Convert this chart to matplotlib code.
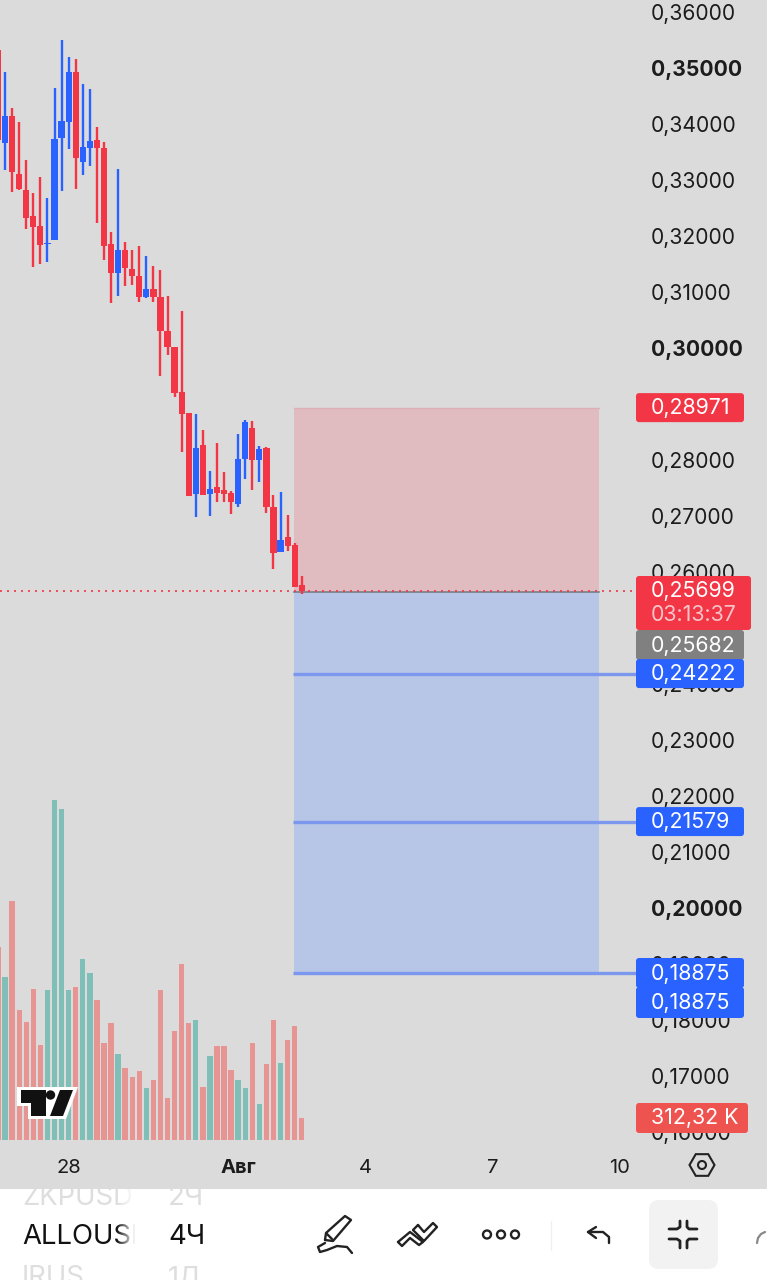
import matplotlib
matplotlib.use('Agg')
import matplotlib.pyplot as plt
import numpy as np
from matplotlib.patches import Rectangle, FancyBboxPatch, Polygon, Circle, RegularPolygon
from matplotlib.transforms import ScaledTranslation

plt.rcParams['font.family'] = ['Inter', 'DejaVu Sans']

# 4h candles
opens = [.35357, .33696, .34179, .33143, .32857, .32393, .32214, .31893, .31964, .33786, .34071,
         .34964, .33357, .33607, .33750, .33607, .31893, .31375, .31786, .31446, .31321, .30946,
         .31089, .30946, .30339, .30054, .29250, .28875, .27428, .28304, .27428, .27554, .27500,
         .27446, .27250, .28054, .28607, .28036, .28250, .27196, .26393, .26661, .26518, .25804]
highs = [.35357, .34964, .34321, .34071, .33393, .32804, .33089, .32714, .34679, .35536, .35232,
         .35196, .34750, .34661, .33982, .33714, .32107, .33232, .31929, .31786, .31857, .31679,
         .31500, .31429, .30964, .30054, .30696, .28875, .28857, .28571, .27839, .28339, .27821,
         .27482, .28500, .28750, .28732, .28286, .28268, .27411, .27464, .27054, .26554, .25964]
lows = [.33661, .33214, .32821, .32857, .32161, .31482, .31536, .31571, .31964, .32839, .33589,
        .32875, .33125, .33286, .32268, .31607, .30839, .30964, .31143, .31161, .30857, .30929,
        .30857, .29536, .29911, .29161, .28179, .27393, .27018, .27411, .27036, .27286, .27286,
        .27072, .27196, .27696, .27500, .27643, .27089, .26089, .26393, .26411, .25768, .25643]
closes = [.33750, .34179, .33179, .32875, .32357, .32196, .31875, .31911, .33768, .34089, .34964,
          .33429, .33625, .33732, .33607, .31857, .31375, .31786, .31464, .31321, .30946, .31089,
          .30946, .30339, .30054, .29232, .28857, .27393, .28250, .27411, .27518, .27446, .27428,
          .27286, .28054, .28714, .28036, .28232, .27196, .26375, .26607, .26500, .25768, .25699]
volumes = [2741, 2315, 3394, 1846, 1676, 2144, 1349, 2130, 4828, 4700, 2130, 2173, 2570, 2371, 1988,
           1377, 1661, 1221, 1022, 895, 980, 738, 852, 2130, 596, 1548, 2499, 1661, 1704, 753, 1193,
           1335, 1335, 994, 852, 738, 1377, 511, 1079, 1704, 1093, 1420, 1619, 312.32]

price_ticks = [.36, .35, .34, .33, .32, .31, .30, .28, .27, .26, .24, .23, .22, .21, .20, .19, .18, .17, .16]
bold_ticks = [.35, .30, .20]
date_ticks = [10, 34, 52, 70, 88]
date_labels = ['28', 'Авг', '4', '7', '10']

stop_price = 0.28971
entry_price = 0.25682
last_price = 0.25699
targets = [0.24222, 0.21579, 0.18875]

RED = '#f23645'
BLUE = '#2962ff'
GRAY_BG = '#dbdbdb'
VOL_RED = '#e79592'
VOL_TEAL = '#7fbfb8'

# pixel layout of the screenshot
CHART_H = 1189
PX_PER_BAR = 7.064
PX_PER_PRICE = 5600


def bar_x(px):
    return (px + 2) / PX_PER_BAR


def price_y(price):
    return 70 + (0.35 - price) * PX_PER_PRICE


fig = plt.figure(figsize=(7.67, 12.8), dpi=100, facecolor='white')
rect = [0, 1 - CHART_H / 1280, 1, CHART_H / 1280]

# Volume goes underneath the candles
ax_vol = fig.add_axes(rect, facecolor=GRAY_BG, zorder=1)
ax = fig.add_axes(rect, facecolor='none', zorder=2)
ui = fig.add_axes([0, 0, 1, 1], facecolor='none', zorder=3)
ui.set_xlim(0, 767)
ui.set_ylim(1280, 0)
ui.axis('off')

bars = np.arange(len(opens))
up = np.array(closes) >= np.array(opens)

ax_vol.bar(bars, volumes, width=0.76, color=[VOL_TEAL if u else VOL_RED for u in up])
ax_vol.set_xlim(bar_x(0), bar_x(767))
ax_vol.set_ylim(-49 * 14.2, 1140 * 14.2)
ax_vol.set_xticks([])
ax_vol.set_yticks([])
for s in ax_vol.spines.values():
    s.set_visible(False)

# Position tool
x0, x1 = bar_x(294), bar_x(599)
ax.add_patch(Rectangle((x0, entry_price), x1 - x0, stop_price - entry_price, fc='#e0bcc0', ec='none', zorder=1))
ax.plot([x0, x1], [stop_price, stop_price], color='#dcb0b5', lw=1, zorder=1.2)
ax.add_patch(Rectangle((x0, targets[2]), x1 - x0, entry_price - targets[2], fc='#b7c5e6', ec='none', zorder=1))
ax.plot([x0, x1], [entry_price, entry_price], color='#777f8c', lw=1.2, zorder=1.3)
for t in targets:
    ax.plot([bar_x(293), bar_x(636)], [t, t], color='#7b97ee', lw=2.4, zorder=1.4, solid_capstyle='butt')

ax.plot([bar_x(0), bar_x(634)], [last_price, last_price], color=RED, lw=1.2, ls=(0, (1.2, 3)), zorder=1.5)

# Candles
colors = [BLUE if u else RED for u in up]
ax.vlines(bars, lows, highs, colors=colors, lw=1.7, zorder=3)
ax.bar(bars, np.abs(np.array(closes) - np.array(opens)), bottom=np.minimum(opens, closes),
       width=0.88, color=colors, zorder=3)

ax.set_xlim(bar_x(0), bar_x(767))
ax.set_ylim(0.35 - (CHART_H - 70) / PX_PER_PRICE, 0.35 + 70 / PX_PER_PRICE)
for s in ax.spines.values():
    s.set_visible(False)

ax.yaxis.tick_right()
ax.set_yticks(price_ticks)
ax.set_yticklabels([f'{p:.5f}'.replace('.', ',') for p in price_ticks])
ax.tick_params(axis='y', length=0, pad=-116 * 0.72, labelsize=15.2, labelcolor='#1c1c1c')
shift = ScaledTranslation(0, 2 / 100, fig.dpi_scale_trans)
for p, lbl in zip(price_ticks, ax.get_yticklabels()):
    lbl.set_transform(lbl.get_transform() + shift)
    if p in bold_ticks:
        lbl.set_fontweight('bold')

ax.set_xticks(date_ticks)
ax.set_xticklabels(date_labels)
ax.tick_params(axis='x', length=0, pad=-30 * 0.72, labelsize=14.5, labelcolor='#1c1c1c')
ax.get_xticklabels()[1].set_fontweight('bold')


def tag(y_top, y_bot, text, color, x_right=744):
    ui.add_patch(FancyBboxPatch((636 + 2, y_top + 2), x_right - 636 - 4, y_bot - y_top - 4,
                                boxstyle='round,pad=2,rounding_size=3', fc=color, ec='none', zorder=5))
    ui.text(651, (y_top + y_bot) / 2 + 0.5, text, color='white', fontsize=15.4, ha='left', va='center', zorder=6)


tag(price_y(stop_price) - 14.5, price_y(stop_price) + 14.5, '0,28971', RED)
ui.add_patch(FancyBboxPatch((638, 578), 111, 50, boxstyle='round,pad=2,rounding_size=3', fc=RED, ec='none', zorder=5))
ui.text(651, 591, '0,25699', color='white', fontsize=15.4, ha='left', va='center', zorder=6)
ui.text(651, 615, '03:13:37', color='#f7c4c9', fontsize=15.4, ha='left', va='center', zorder=6)
tag(630, 660, '0,25682', '#808080')
tag(price_y(targets[0]) - 14.5, price_y(targets[0]) + 14.5, '0,24222', BLUE)
tag(price_y(targets[1]) - 14.5, price_y(targets[1]) + 14.5, '0,21579', BLUE)
tag(958, 988, '0,18875', BLUE)
tag(987, 1018, '0,18875', BLUE)
tag(1103, 1133, '312,32 K', '#ef5350', x_right=748)

# Settings hexagon on the time axis
ui.add_patch(RegularPolygon((702, 1165), 6, radius=12.5, orientation=np.pi / 6, fc='none', ec='#222222', lw=1.5))
ui.add_patch(Circle((702, 1165), 4, fc='none', ec='#222222', lw=1.5))

# TradingView logo
ui.add_patch(Polygon([(17, 1087), (78, 1087), (66, 1119), (28, 1119), (28, 1106), (17, 1106)], fc='white', ec='none', zorder=4))
ui.add_patch(Polygon([(21, 1090), (46, 1090), (46, 1116), (31, 1116), (31, 1103), (21, 1103)], fc='#111111', ec='none', zorder=5))
ui.add_patch(Circle((50.5, 1095), 4.7, fc='#111111', ec='none', zorder=5))
ui.add_patch(Polygon([(60, 1090), (73, 1090), (63, 1116), (50, 1116)], fc='#111111', ec='none', zorder=5))

# Toolbar: the symbol and interval pickers, clipped to their wheel
clip_sym = Rectangle((0, 1189), 136, 91, transform=ui.transData)
clip_int = Rectangle((160, 1189), 60, 91, transform=ui.transData)
for txt, x, y, c in [('ZKPUSD', 22, 1198, '#dedede'), ('2Ч', 168, 1198, '#dedede'),
                     ('ALLOUSDT', 22, 1237, '#111111'), ('4Ч', 168, 1237, '#111111'),
                     ('IRUS', 22, 1278, '#dedede'), ('1Д', 168, 1278, '#dedede')]:
    t = ui.text(x, y, txt, color=c, fontsize=19.8, ha='left', va='center')
    t.set_clip_on(True)
    t.set_clip_path(clip_sym if x == 22 else clip_int)
# long tickers fade out to white
fade = np.linspace(0, 1, 16)[None, :, None]
rgba = np.dstack([np.ones((1, 16, 3)), fade])
ui.imshow(rgba, extent=(116, 136, 1280, 1189), aspect='auto', zorder=3)
ui.set_xlim(0, 767)
ui.set_ylim(1280, 0)

ink = dict(color='#222222', lw=1.7, solid_capstyle='round', solid_joinstyle='round')
# pencil
ui.plot([325, 326, 345, 351, 333, 325], [1240, 1233, 1216, 1220, 1241, 1240], **ink)
ui.plot([327, 332], [1234, 1239], **ink)
ui.plot([325, 318, 320, 327, 337, 347, 352], [1243, 1247, 1252, 1250, 1246, 1247, 1253], **ink)
# double-tick drawing tool
ui.plot([398, 410, 423, 419, 410, 402, 398], [1242, 1232, 1242, 1245, 1238, 1246, 1242], **ink)
ui.plot([418, 424, 433, 437, 424, 413, 418], [1225, 1232, 1223, 1227, 1241, 1230, 1225], **ink)
# more dots
for cx in (487, 501, 515):
    ui.add_patch(Circle((cx, 1234.5), 4, fc='none', ec='#222222', lw=1.7))
ui.plot([551, 551], [1221, 1250], color='#f0f0f0', lw=1)
# undo
ui.plot([596, 588, 596], [1227, 1232, 1238], **ink)
ui.plot([588, 603, 609, 609], [1232, 1232, 1237, 1243], **ink)
# compress tile
ui.add_patch(FancyBboxPatch((657, 1208), 53, 53, boxstyle='round,pad=8,rounding_size=10', fc='#f2f2f2', ec='none'))
ink2 = dict(ink, lw=2)
ui.plot([669, 677, 680, 680], [1229, 1229, 1227, 1221], **ink2)
ui.plot([697, 689, 687, 687], [1229, 1229, 1227, 1221], **ink2)
ui.plot([669, 677, 680, 680], [1239, 1239, 1241, 1248], **ink2)
ui.plot([697, 689, 687, 687], [1239, 1239, 1241, 1248], **ink2)
ui.plot([757, 758, 761, 765], [1243, 1238, 1234, 1232], color='#888888', lw=1.6, solid_capstyle='round')

fig.savefig('out.png', dpi=100)
